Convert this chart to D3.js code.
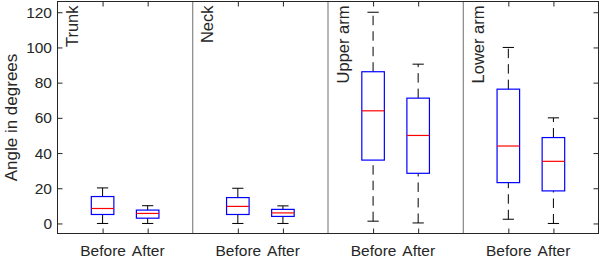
<!DOCTYPE html>
<html><head><meta charset="utf-8">
<script src="https://cdn.jsdelivr.net/npm/d3@7/dist/d3.min.js"></script>
<style>
html,body{margin:0;padding:0;background:#fff;}
text{font-family:"Liberation Sans",Arial,Helvetica,sans-serif;fill:#262626;}
</style></head><body>
<script>
// ---- data ----
const groups = ["Trunk", "Neck", "Upper arm", "Lower arm"];
const conditions = ["Before", "After"];
// one entry per box, order: Trunk-Before, Trunk-After, Neck-Before, ...
const whiskerLow  = [0,   0,   0,   0,   1.3, 0.3, 2.4, 0];
const quartile1   = [5.1, 3.0, 5.1, 4.0, 36,  28.5, 23.2, 18.5];
const medians     = [8.5, 5.7, 9.7, 6.0, 64,  50,  44,  35.3];
const quartile3   = [15.3, 7.6, 14.7, 8.0, 86.2, 71.2, 76.3, 48.8];
const whiskerHigh = [20.2, 10.1, 20, 10, 120, 90.5, 100, 60];
const yTicks = [0, 20, 40, 60, 80, 100, 120];
const yLimits = [-5.7, 126.1];
const yLabel = "Angle in degrees";

// ---- layout ----
const W = 602, H = 261;
const pLeft = 57.5, pRight = 598.5, pTop = 1.5, pBottom = 233.5;
const nSlots = groups.length * 3; // 12

const svg = d3.select("body").append("svg").attr("width", W).attr("height", H);
svg.append("rect").attr("width", W).attr("height", H).attr("fill", "#fff");

const x = d3.scaleLinear().domain([0, nSlots]).range([pLeft, pRight]);
const y = d3.scaleLinear().domain(yLimits).range([pBottom, pTop]);

const boxes = [];
groups.forEach((g, gi) => conditions.forEach((c, ci) => {
  const i = gi * 2 + ci;
  boxes.push({group: g, cond: c, pos: gi * 3 + 1 + ci,
    lo: whiskerLow[i], q1: quartile1[i], med: medians[i], q3: quartile3[i], hi: whiskerHigh[i]});
}));

const axisColor = "#262626";

// separators
const seps = d3.range(1, groups.length).map(k => k * 3);
svg.selectAll("line.sep").data(seps).join("line")
  .attr("x1", d => x(d)).attr("x2", d => x(d))
  .attr("y1", pTop).attr("y2", pBottom)
  .attr("stroke", "#6e6e6e").attr("stroke-width", 1);

// axes (left + bottom with inward ticks, mirrored top + right)
const tickLen = 5;
const yAxisL = d3.axisLeft(y).tickValues(yTicks).tickSize(-tickLen).tickPadding(5.5);
const gL = svg.append("g").attr("transform", `translate(${pLeft},0)`).call(yAxisL);
const yAxisR = d3.axisRight(y).tickValues(yTicks).tickSize(-tickLen).tickFormat("");
const gR = svg.append("g").attr("transform", `translate(${pRight},0)`).call(yAxisR);
const xPos = boxes.map(b => b.pos);
const xAxisB = d3.axisBottom(x).tickValues(xPos).tickSize(-tickLen)
  .tickFormat((d, i) => boxes[i].cond).tickPadding(11.5);
const gB = svg.append("g").attr("transform", `translate(0,${pBottom})`).call(xAxisB);
const xAxisT = d3.axisTop(x).tickValues(xPos).tickSize(-tickLen).tickFormat("");
const gT = svg.append("g").attr("transform", `translate(0,${pTop})`).call(xAxisT);

[gL, gR, gB, gT].forEach(g => {
  g.select(".domain").remove();
  g.selectAll(".tick line").attr("stroke", axisColor);
  g.selectAll("text").attr("fill", axisColor).style("font-size", "15.5px")
    .style("font-family", '"Liberation Sans",Arial,sans-serif');
});
// frame
svg.append("rect").attr("x", pLeft).attr("y", pTop)
  .attr("width", pRight - pLeft).attr("height", pBottom - pTop)
  .attr("fill", "none").attr("stroke", axisColor).attr("stroke-width", 1);

// y label
svg.append("text")
  .attr("transform", `translate(17,${(pTop + pBottom) / 2}) rotate(-90)`)
  .attr("text-anchor", "middle").style("font-size", "17px").text(yLabel);

// group labels
svg.selectAll("text.grp").data(groups).join("text")
  .attr("class", "grp")
  .attr("transform", (d, i) => `translate(${x(i * 3) + 20.5},5.5) rotate(-90)`)
  .attr("text-anchor", "end").style("font-size", "16.5px").text(d => d);

// boxes
const bw = 0.25, cw = 0.125;
const gBox = svg.append("g");
const bx = gBox.selectAll("g.box").data(boxes).join("g");
// whiskers (drawn from lower value to higher value, dashed)
bx.append("line").attr("x1", d => x(d.pos)).attr("x2", d => x(d.pos))
  .attr("y1", d => y(d.q3)).attr("y2", d => y(d.hi))
  .attr("stroke", "#000").attr("stroke-dasharray", "9.5,6");
bx.append("line").attr("x1", d => x(d.pos)).attr("x2", d => x(d.pos))
  .attr("y1", d => y(d.lo)).attr("y2", d => y(d.q1))
  .attr("stroke", "#000").attr("stroke-dasharray", "9.5,6");
// caps
bx.append("line").attr("x1", d => x(d.pos - cw)).attr("x2", d => x(d.pos + cw))
  .attr("y1", d => y(d.hi)).attr("y2", d => y(d.hi)).attr("stroke", "#000");
bx.append("line").attr("x1", d => x(d.pos - cw)).attr("x2", d => x(d.pos + cw))
  .attr("y1", d => y(d.lo)).attr("y2", d => y(d.lo)).attr("stroke", "#000");
// box
bx.append("rect").attr("x", d => x(d.pos - bw)).attr("width", d => x(d.pos + bw) - x(d.pos - bw))
  .attr("y", d => y(d.q3)).attr("height", d => y(d.q1) - y(d.q3))
  .attr("fill", "none").attr("stroke", "#0000ff").attr("stroke-width", 1.2);
// median
bx.append("line").attr("x1", d => x(d.pos - bw)).attr("x2", d => x(d.pos + bw))
  .attr("y1", d => y(d.med)).attr("y2", d => y(d.med))
  .attr("stroke", "#ff0000").attr("stroke-width", 1.2);
</script>
</body></html>
